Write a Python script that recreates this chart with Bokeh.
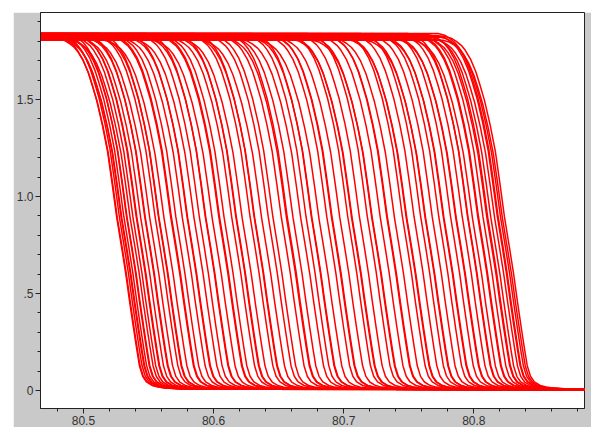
import numpy as np
from bokeh.plotting import figure
from bokeh.layouts import column, row
from bokeh.models import ColumnDataSource, Range1d, FixedTicker, Spacer
from bokeh.embed import file_html
from bokeh.resources import INLINE

# Transition midpoints (temperature where the signal reaches ~half height)
midpoints = [80.5255, 80.526, 80.5275, 80.529, 80.5295, 80.531, 80.533, 80.5335, 80.536, 80.538,
             80.5405, 80.541, 80.544, 80.547, 80.5475, 80.551, 80.555, 80.5575, 80.558, 80.562,
             80.567, 80.5675, 80.571, 80.576, 80.5795, 80.580, 80.585, 80.589, 80.5935, 80.594,
             80.599, 80.604, 80.6045, 80.608, 80.614, 80.617, 80.6175, 80.622, 80.628, 80.631,
             80.6315, 80.637, 80.642, 80.6455, 80.652, 80.656, 80.6565, 80.661, 80.667, 80.671,
             80.675, 80.6755, 80.681, 80.687, 80.6905, 80.691, 80.697, 80.703, 80.706, 80.7065,
             80.712, 80.718, 80.7215, 80.722, 80.728, 80.733, 80.7335, 80.739, 80.745, 80.748,
             80.7485, 80.754, 80.759, 80.7625, 80.763, 80.768, 80.773, 80.7765, 80.777, 80.782,
             80.786, 80.7865, 80.791, 80.795, 80.7955, 80.799, 80.803, 80.8035, 80.807, 80.810,
             80.8105, 80.813, 80.816, 80.818, 80.8185, 80.8205, 80.822, 80.8235]

# Plateau heights (upper level) of the curves, cycling
plateaus = [1.825, 1.815, 1.835, 1.82, 1.81, 1.83, 1.84, 1.82, 1.805, 1.825, 1.83]

# Shared melt profile: offset from midpoint (deg) and fraction of plateau
profile_dx = [-0.50, -0.046, -0.041, -0.037, -0.033, -0.030, -0.026, -0.022, -0.019, -0.0154,
              -0.011, -0.007, -0.0035, 0.0, 0.004, 0.007, 0.010, 0.013, 0.0155, 0.0175,
              0.020, 0.023, 0.0275, 0.032, 0.037, 0.050, 0.50]
profile_f = [1.0, 1.0, 0.995, 0.986, 0.974, 0.96, 0.935, 0.90, 0.865, 0.82,
             0.75, 0.675, 0.585, 0.49, 0.40, 0.33, 0.25, 0.175, 0.115, 0.07,
             0.04, 0.024, 0.014, 0.0095, 0.007, 0.004, 0.002]

x_ticks = [80.5, 80.6, 80.7, 80.8]
y_ticks = [0, 0.5, 1.0, 1.5]
y_tick_labels = {0: "0", 0.5: ".5", 1: "1.0", 1.5: "1.5"}

xs, ys = [], []
for i, m in enumerate(midpoints):
    top = plateaus[i % len(plateaus)]
    xs.append([m + d for d in profile_dx])
    ys.append([top * f for f in profile_f])

src = ColumnDataSource(dict(xs=xs, ys=ys))

p = figure(width=578, height=415, output_backend="svg", toolbar_location=None,
           x_range=Range1d(80.467, 80.885), y_range=Range1d(-0.093, 1.948),
           min_border_left=26, min_border_right=7, min_border_top=0, min_border_bottom=0)

p.multi_line(xs="xs", ys="ys", source=src, line_color="#ff0000", line_width=1.5)

gray = "#c9c9c9"
p.border_fill_color = gray
p.background_fill_color = "white"
p.outline_line_color = "#222222"
p.outline_line_width = 1
p.grid.visible = False

p.xaxis.ticker = FixedTicker(ticks=x_ticks, minor_ticks=list(np.round(np.arange(80.46, 80.90, 0.02), 3)))
p.yaxis.ticker = FixedTicker(ticks=y_ticks, minor_ticks=list(np.round(np.arange(-0.1, 1.95, 0.1), 2)))
p.yaxis.major_label_overrides = y_tick_labels

for ax in (p.xaxis[0], p.yaxis[0]):
    ax.axis_line_color = "#222222"
    ax.major_tick_line_color = "#222222"
    ax.minor_tick_line_color = "#222222"
    ax.major_tick_out = 5
    ax.major_tick_in = 0
    ax.minor_tick_out = 3
    ax.minor_tick_in = 0
    ax.major_label_text_font = "Liberation Sans"
    ax.major_label_text_font_size = "12px"
    ax.major_label_text_color = "#333333"
    ax.major_label_standoff = 2

layout = column(Spacer(height=12), row(Spacer(width=13), p))

open("out.html", "w").write(file_html(layout, INLINE))
